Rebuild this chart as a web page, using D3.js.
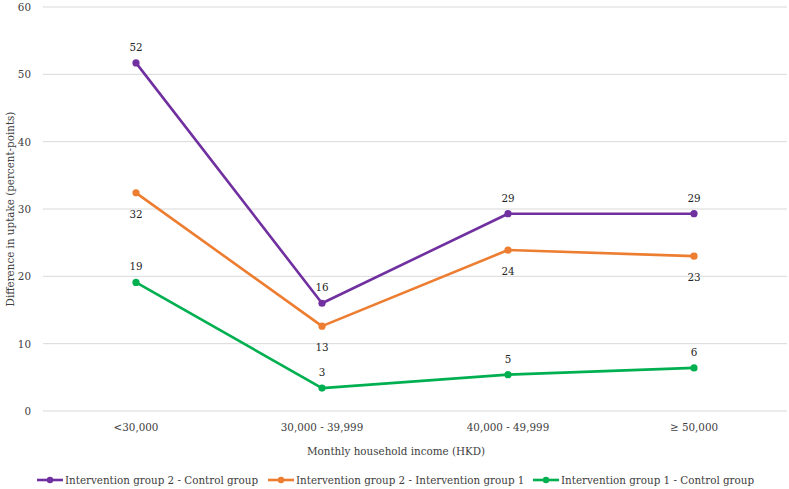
<!DOCTYPE html>
<html>
<head>
<meta charset="utf-8">
<script src="https://cdn.jsdelivr.net/npm/d3@7"></script>
<style>
  html, body { margin: 0; padding: 0; background: #fff; }
</style>
</head>
<body>
<svg id="chart" width="789" height="489"></svg>
<script>
// categories and series (percent-point differences)
const categories = ["<30,000", "30,000 - 39,999", "40,000 - 49,999", "\u2265 50,000"];
const seriesNames = [
  "Intervention group 2 - Control group",
  "Intervention group 2 - Intervention group 1",
  "Intervention group 1 - Control group"
];
const g2VsControl = [51.7, 16.0, 29.3, 29.3];
const g2VsG1      = [32.4, 12.6, 23.9, 23.0];
const g1VsControl = [19.1, 3.4, 5.4, 6.4];
const yTicks = [0, 10, 20, 30, 40, 50, 60];

const colors = ["#7030A0", "#ED7D31", "#00B050"];
const labelPos = ["above", "below", "above"];

const FONT = "'DejaVu Serif Condensed', 'DejaVu Serif', serif";

const svg = d3.select("#chart")
  .style("font-family", FONT)
  .style("font-size", "11.5px");

const margin = { left: 43, right: 2, top: 7, bottom: 78 };
const W = 789, H = 489;

const x = d3.scalePoint()
  .domain(categories)
  .range([margin.left, W - margin.right])
  .padding(0.5);

const y = d3.scaleLinear()
  .domain([0, 60])
  .range([H - margin.bottom, margin.top]);

// gridlines
svg.append("g")
  .selectAll("line")
  .data(yTicks)
  .enter().append("line")
  .attr("x1", margin.left)
  .attr("x2", W - margin.right)
  .attr("y1", d => y(d))
  .attr("y2", d => y(d))
  .attr("stroke", "#d9d9d9")
  .attr("stroke-width", 1);

// y tick labels
svg.append("g")
  .selectAll("text")
  .data(yTicks)
  .enter().append("text")
  .attr("x", 31)
  .attr("y", d => y(d))
  .attr("dy", "0.35em")
  .attr("text-anchor", "end")
  .attr("fill", "#404040")
  .text(d => d);

// category labels
svg.append("g")
  .selectAll("text")
  .data(categories)
  .enter().append("text")
  .attr("x", d => x(d))
  .attr("y", 427)
  .attr("dy", "0.35em")
  .attr("text-anchor", "middle")
  .attr("fill", "#404040")
  .text(d => d);

// axis titles
svg.append("text")
  .attr("x", 396)
  .attr("y", 451)
  .attr("dy", "0.35em")
  .attr("text-anchor", "middle")
  .attr("fill", "#404040")
  .text("Monthly household income (HKD)");

svg.append("text")
  .attr("transform", `translate(10,${(margin.top + H - margin.bottom) / 2}) rotate(-90)`)
  .attr("dy", "0.35em")
  .attr("text-anchor", "middle")
  .attr("fill", "#404040")
  .text("Difference in uptake (percent-points)");

// lines + markers + labels
const allSeries = [g2VsControl, g2VsG1, g1VsControl];
const line = d3.line()
  .x((d, i) => x(categories[i]))
  .y(d => y(d));

allSeries.forEach((vals, si) => {
  const g = svg.append("g");
  g.append("path")
    .datum(vals)
    .attr("d", line)
    .attr("fill", "none")
    .attr("stroke", colors[si])
    .attr("stroke-width", 2.6)
    .attr("stroke-linejoin", "round");

  g.selectAll("circle")
    .data(vals)
    .enter().append("circle")
    .attr("cx", (d, i) => x(categories[i]))
    .attr("cy", d => y(d))
    .attr("r", 3.6)
    .attr("fill", colors[si]);

  g.selectAll("text")
    .data(vals)
    .enter().append("text")
    .attr("x", (d, i) => x(categories[i]))
    .attr("y", d => y(d) + (labelPos[si] === "above" ? -16 : 21))
    .attr("dy", "0.35em")
    .attr("text-anchor", "middle")
    .attr("fill", "#262626")
    .text(d => Math.round(d));
});

// legend
const legendX = [37, 268, 533];
const legend = svg.append("g")
  .selectAll("g")
  .data(seriesNames)
  .enter().append("g")
  .attr("transform", (d, i) => `translate(${legendX[i]},480)`);

legend.append("line")
  .attr("x1", 0).attr("x2", 26)
  .attr("stroke", (d, i) => colors[i])
  .attr("stroke-width", 2.6);
legend.append("circle")
  .attr("cx", 13).attr("r", 3.2)
  .attr("fill", (d, i) => colors[i]);
legend.append("text")
  .attr("x", 28)
  .attr("dy", "0.35em")
  .attr("fill", "#404040")
  .text(d => d);
</script>
</body>
</html>
